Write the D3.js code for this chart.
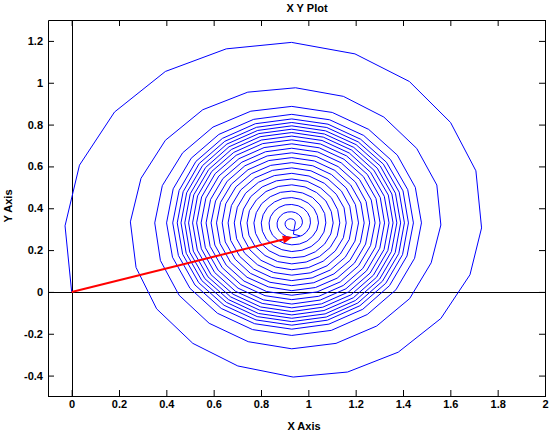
<!DOCTYPE html>
<html>
<head>
<meta charset="utf-8">
<script src="https://cdn.jsdelivr.net/npm/d3@7"></script>
<style>
body { margin: 0; background: #fff; }
text { font-family: "Liberation Sans", Arial, sans-serif; font-weight: bold; }
</style>
</head>
<body>
<div class="container"></div>
<script>
const xTicks = [0, 0.2, 0.4, 0.6, 0.8, 1, 1.2, 1.4, 1.6, 1.8, 2],
    yTicks = [-0.4, -0.2, 0, 0.2, 0.4, 0.6, 0.8, 1, 1.2];

// vector drawn in red, from the origin
const arrowStart = [0, 0],
    arrowEnd = [0.934, 0.262];

// spiral (outer turn first)
const spiral = [
    [0,0],[-0.028,0.316],[0.033,0.606],[0.181,0.860],[0.396,1.054],[0.653,1.162],[0.929,1.193],[1.197,1.138],[1.427,1.006],[1.601,0.810],
    [1.708,0.579],[1.732,0.306],[1.683,0.082],[1.560,-0.127],[1.380,-0.288],[1.166,-0.383],[0.936,-0.407],[0.702,-0.354],[0.512,-0.246],[0.359,-0.081],
    [0.272,0.117],[0.248,0.335],[0.293,0.543],[0.396,0.725],[0.554,0.871],[0.744,0.955],[0.946,0.976],[1.148,0.935],[1.319,0.836],[1.458,0.686],
    [1.543,0.511],[1.560,0.320],[1.519,0.139],[1.428,-0.032],[1.289,-0.163],[1.117,-0.246],[0.930,-0.272],[0.746,-0.238],[0.581,-0.150],[0.454,-0.016],
    [0.375,0.150],[0.351,0.330],[0.383,0.508],[0.469,0.665],[0.597,0.788],[0.757,0.864],
    [0.930,0.887],[1.101,0.858],[1.255,0.777],[1.376,0.654],[1.452,0.500],[1.478,0.330],[1.449,0.161],[1.370,0.010],[1.249,-0.108],[1.097,-0.184],
    [0.930,-0.208],[0.764,-0.180],[0.616,-0.102],[0.500,0.017],[0.426,0.166],[0.401,0.330],[0.429,0.493],[0.505,0.639],[0.622,0.753],[0.769,0.825],
    [0.930,0.849],[1.090,0.823],[1.234,0.748],[1.347,0.633],[1.420,0.489],[1.444,0.330],[1.417,0.172],[1.343,0.030],[1.230,-0.083],[1.087,-0.154],
    [0.930,-0.178],[0.773,-0.152],[0.632,-0.079],[0.521,0.033],[0.451,0.174],[0.427,0.330],[0.454,0.485],[0.525,0.624],[0.637,0.734],[0.776,0.804],
    [0.930,0.827],[1.083,0.802],[1.221,0.730],[1.330,0.620],[1.400,0.483],[1.423,0.330],[1.398,0.178],[1.327,0.041],[1.218,-0.066],[1.081,-0.135],
    [0.930,-0.159],[0.779,-0.134],[0.644,-0.064],[0.537,0.044],[0.469,0.180],[0.446,0.330],[0.471,0.479],[0.539,0.614],[0.647,0.720],[0.781,0.787],
    [0.930,0.810],[1.078,0.786],[1.211,0.717],[1.317,0.611],[1.384,0.477],[1.406,0.330],[1.382,0.183],[1.313,0.051],[1.209,-0.053],[1.076,-0.120],
    [0.930,-0.142],[0.784,-0.118],[0.654,-0.050],[0.550,0.054],[0.484,0.185],[0.462,0.330],[0.486,0.474],[0.553,0.604],[0.656,0.707],[0.786,0.772],
    [0.930,0.794],[1.073,0.770],[1.202,0.704],[1.304,0.602],[1.368,0.472],[1.390,0.330],[1.367,0.188],[1.301,0.061],[1.199,-0.041],[1.071,-0.105],
    [0.930,-0.126],[0.789,-0.103],[0.663,-0.037],[0.563,0.063],[0.499,0.190],[0.478,0.330],[0.501,0.469],[0.566,0.595],[0.665,0.694],[0.791,0.757],
    [0.930,0.778],[1.068,0.755],[1.192,0.691],[1.291,0.592],[1.353,0.468],[1.374,0.330],[1.351,0.193],[1.288,0.070],[1.190,-0.028],[1.066,-0.089],
    [0.930,-0.110],[0.794,-0.087],[0.672,-0.024],[0.576,0.072],[0.514,0.195],[0.494,0.330],[0.516,0.464],[0.579,0.585],[0.675,0.681],[0.796,0.742],
    [0.930,0.762],[1.063,0.740],[1.183,0.678],[1.277,0.582],[1.338,0.463],[1.358,0.330],[1.336,0.198],[1.275,0.080],[1.180,-0.014],[1.061,-0.073],
    [0.930,-0.094],[0.799,-0.072],[0.682,-0.011],[0.589,0.082],[0.531,0.200],[0.511,0.330],[0.532,0.459],[0.592,0.576],[0.685,0.667],[0.801,0.726],
    [0.930,0.745],[1.058,0.724],[1.173,0.664],[1.263,0.572],[1.321,0.457],[1.341,0.330],[1.320,0.203],[1.261,0.090],[1.170,0.000],[1.056,-0.057],
    [0.930,-0.076],[0.805,-0.055],[0.692,0.003],[0.604,0.093],[0.548,0.206],[0.528,0.330],[0.549,0.454],[0.606,0.565],[0.695,0.653],[0.807,0.709],
    [0.930,0.727],[1.052,0.707],[1.162,0.650],[1.249,0.562],[1.304,0.451],[1.322,0.330],[1.302,0.209],[1.246,0.101],[1.159,0.015],[1.050,-0.039],
    [0.930,-0.058],[0.810,-0.038],[0.703,0.018],[0.619,0.104],[0.565,0.211],[0.547,0.330],[0.567,0.448],[0.622,0.554],[0.707,0.637],[0.813,0.690],
    [0.930,0.708],[1.046,0.689],[1.151,0.634],[1.233,0.551],[1.286,0.446],[1.303,0.330],[1.284,0.215],[1.230,0.112],[1.148,0.031],[1.044,-0.021],
    [0.930,-0.037],[0.817,-0.018],[0.715,0.035],[0.636,0.116],[0.585,0.218],[0.568,0.330],[0.587,0.442],[0.639,0.542],[0.719,0.620],[0.819,0.670],
    [0.930,0.687],[1.040,0.669],[1.139,0.617],[1.216,0.538],[1.266,0.439],[1.282,0.330],[1.263,0.222],[1.212,0.125],[1.135,0.048],[1.037,0.000],
    [0.930,-0.016],[0.823,0.002],[0.728,0.052],[0.653,0.128],[0.605,0.224],[0.589,0.330],[0.608,0.435],[0.657,0.529],[0.732,0.603],[0.826,0.650],
    [0.930,0.665],[1.033,0.648],[1.126,0.599],[1.199,0.525],[1.244,0.432],[1.259,0.330],[1.242,0.229],[1.195,0.138],[1.122,0.066],[1.030,0.021],
    [0.930,0.006],[0.831,0.024],[0.741,0.070],[0.671,0.142],[0.627,0.231],[0.612,0.330],[0.629,0.428],[0.675,0.515],[0.745,0.584],[0.833,0.628],
    [0.930,0.642],[1.026,0.626],[1.112,0.581],[1.179,0.511],[1.222,0.425],[1.236,0.330],[1.220,0.236],[1.176,0.151],[1.108,0.086],[1.023,0.044],
    [0.930,0.030],[0.838,0.046],[0.755,0.089],[0.691,0.156],[0.649,0.239],[0.636,0.330],[0.651,0.421],[0.694,0.502],[0.759,0.565],[0.841,0.605],
    [0.930,0.618],[1.019,0.603],[1.098,0.561],[1.160,0.497],[1.199,0.417],[1.212,0.330],[1.197,0.243],[1.156,0.166],[1.093,0.105],[1.016,0.067],
    [0.930,0.054],[0.845,0.069],[0.769,0.109],[0.710,0.170],[0.672,0.246],[0.661,0.330],[0.675,0.413],[0.714,0.487],[0.774,0.545],[0.848,0.581],
    [0.930,0.593],[1.011,0.579],[1.083,0.540],[1.140,0.482],[1.175,0.410],[1.186,0.330],[1.173,0.251],[1.135,0.181],[1.079,0.125],[1.008,0.091],
    [0.930,0.080],[0.853,0.093],[0.785,0.130],[0.731,0.185],[0.697,0.254],[0.687,0.330],[0.700,0.405],[0.735,0.472],[0.789,0.524],[0.856,0.556],
    [0.930,0.567],[1.003,0.554],[1.068,0.519],[1.118,0.467],[1.151,0.402],[1.160,0.330],[1.148,0.259],[1.114,0.196],[1.063,0.147],[1.000,0.116],
    [0.930,0.106],[0.861,0.119],[0.800,0.151],[0.753,0.201],[0.723,0.263],[0.713,0.330],[0.726,0.396],[0.757,0.456],[0.805,0.502],[0.865,0.531],
    [0.930,0.540],[0.995,0.529],[1.052,0.497],[1.097,0.451],[1.124,0.393],[1.133,0.330],[1.122,0.268],[1.092,0.212],[1.047,0.169],[0.991,0.143],
    [0.930,0.134],[0.870,0.145],[0.817,0.174],[0.775,0.217],[0.749,0.271],[0.741,0.330],[0.751,0.388],[0.780,0.439],[0.821,0.480],[0.873,0.504],
    [0.930,0.512],[0.986,0.502],[1.035,0.475],[1.074,0.435],[1.097,0.384],[1.105,0.330],[1.095,0.277],[1.069,0.229],[1.030,0.192],[0.982,0.169],
    [0.930,0.163],[0.879,0.172],[0.834,0.197],[0.798,0.234],[0.777,0.280],[0.770,0.330],[0.780,0.379],[0.803,0.422],[0.839,0.455],[0.882,0.476],
    [0.930,0.482],[0.976,0.473],[1.018,0.451],[1.049,0.416],[1.069,0.375],[1.074,0.330],[1.066,0.286],[1.044,0.247],[1.012,0.217],[0.973,0.199],
    [0.930,0.193],[0.888,0.202],[0.852,0.222],[0.823,0.252],[0.806,0.290],[0.801,0.330],[0.809,0.369],[0.828,0.404],[0.857,0.430],[0.892,0.447],
    [0.930,0.451],[0.967,0.443],[0.999,0.425],[1.024,0.398],[1.038,0.365],[1.043,0.330],[1.036,0.296],[1.018,0.266],[0.994,0.243],[0.963,0.229],
    [0.930,0.225],[0.898,0.232],[0.871,0.248],[0.849,0.271],[0.837,0.300],[0.834,0.330],[0.840,0.359],[0.855,0.385],[0.876,0.404],[0.902,0.416],
    [0.930,0.418],[0.957,0.412],[0.980,0.399],[0.997,0.379],[1.007,0.355],[1.009,0.330],[1.004,0.306],[0.991,0.285],[0.974,0.270],[0.952,0.262],
    [0.930,0.259],[0.909,0.264],[0.891,0.276],[0.877,0.292],[0.869,0.310],[0.868,0.330],[0.873,0.349],[0.883,0.364],[0.896,0.376],[0.913,0.382],
    [0.930,0.383],[0.946,0.379],[0.959,0.370],[0.969,0.358],[0.974,0.344],[0.975,0.330],[0.971,0.317],[0.963,0.306],[0.953,0.298],[0.942,0.294],
    [0.930,0.294],[0.920,0.298],[0.911,0.303],[0.905,0.312],[0.902,0.321],[0.902,0.330],[0.905,0.338],[0.911,0.344],[0.917,0.348],[0.924,0.350],
    [0.930,0.349],[0.936,0.347],[0.941,0.343],[0.944,0.337],[0.945,0.330],[0.940,0.300],[0.937,0.276],[0.965,0.268]
];

const width = 554,
    height = 439,
    plot = {left: 48, right: 545, top: 20, bottom: 396};

const svg = d3.select('.container')
    .append('svg')
    .attr('width', width)
    .attr('height', height);

const x = d3.scaleLinear().domain([-0.1, 2]).range([plot.left, plot.right]),
    y = d3.scaleLinear().domain([-0.5, 1.3]).range([plot.bottom + 0.5, plot.top]);

const fmt = d => String(Math.round(d * 10) / 10);

// zero lines (snapped to the pixel grid)
const zx = Math.round(x(0)) + 0.5,
    zy = Math.round(y(0)) + 0.5;
svg.append('line')
    .attr('x1', x(-0.1)).attr('x2', x(2))
    .attr('y1', zy).attr('y2', zy)
    .attr('stroke', '#000');
svg.append('line')
    .attr('x1', zx).attr('x2', zx)
    .attr('y1', y(-0.5)).attr('y2', y(1.3))
    .attr('stroke', '#000');

const line = d3.line().x(d => x(d[0])).y(d => y(d[1]));

svg.append('path')
    .datum(spiral)
    .attr('d', line)
    .attr('fill', 'none')
    .attr('stroke', '#0000ff')
    .attr('stroke-width', 1)
    .attr('stroke-linejoin', 'miter');

// arrow
const ax0 = x(arrowStart[0]), ay0 = y(arrowStart[1]),
    ax1 = x(arrowEnd[0]), ay1 = y(arrowEnd[1]),
    ang = Math.atan2(ay1 - ay0, ax1 - ax0),
    headLen = 10, headW = 4,
    bx = ax1 - headLen * Math.cos(ang), by = ay1 - headLen * Math.sin(ang);

svg.append('line')
    .attr('x1', ax0).attr('y1', ay0)
    .attr('x2', bx).attr('y2', by)
    .attr('stroke', '#ff0000')
    .attr('stroke-width', 2);
svg.append('polygon')
    .attr('points', [
        [ax1, ay1],
        [bx + headW * Math.sin(ang), by - headW * Math.cos(ang)],
        [bx - headW * Math.sin(ang), by + headW * Math.cos(ang)]
    ].map(p => p.join(',')).join(' '))
    .attr('fill', '#ff0000');

// frame with inward ticks
const styleAxis = g => {
    g.attr('font-family', null).attr('font-size', null);
    g.selectAll('text')
        .attr('font-size', '11px')
        .attr('fill', '#000');
    g.selectAll('path, line').attr('stroke', '#000');
};

svg.append('g')
    .attr('transform', `translate(0,${plot.bottom})`)
    .call(d3.axisBottom(x).tickValues(xTicks).tickFormat(fmt).tickSizeInner(-6).tickSizeOuter(0).tickPadding(4))
    .call(styleAxis);
svg.append('g')
    .attr('transform', `translate(0,${plot.top})`)
    .call(d3.axisTop(x).tickValues(xTicks).tickFormat('').tickSizeInner(-6).tickSizeOuter(0))
    .call(styleAxis);
svg.append('g')
    .attr('transform', `translate(${plot.left},0)`)
    .call(d3.axisLeft(y).tickValues(yTicks).tickFormat(fmt).tickSizeInner(-6).tickSizeOuter(0).tickPadding(5))
    .call(styleAxis);
svg.append('g')
    .attr('transform', `translate(${plot.right},0)`)
    .call(d3.axisRight(y).tickValues(yTicks).tickFormat('').tickSizeInner(-6).tickSizeOuter(0))
    .call(styleAxis);

// titles
svg.append('text')
    .attr('x', 307).attr('y', 12)
    .attr('text-anchor', 'middle')
    .attr('font-size', '11px')
    .text('X Y Plot');
svg.append('text')
    .attr('x', 304).attr('y', 430)
    .attr('text-anchor', 'middle')
    .attr('font-size', '11px')
    .text('X Axis');
svg.append('text')
    .attr('transform', 'translate(12,206) rotate(-90)')
    .attr('text-anchor', 'middle')
    .attr('font-size', '11px')
    .text('Y Axis');
</script>
</body>
</html>
